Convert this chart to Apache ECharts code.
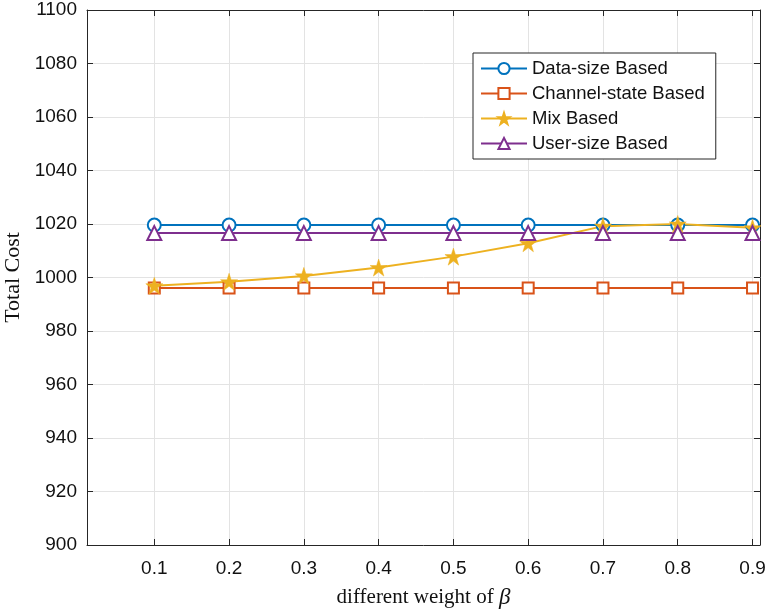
<!DOCTYPE html>
<html><head><meta charset="utf-8">
<script src="https://cdn.jsdelivr.net/npm/echarts@6/dist/echarts.min.js"></script>
<style>html,body{margin:0;padding:0;background:#fff}#c{width:766px;height:614px}</style>
</head><body><div id="c"></div>
<script>
const betas = [0.1,0.2,0.3,0.4,0.5,0.6,0.7,0.8,0.9];
const dataSize = [1019.6,1019.6,1019.6,1019.6,1019.6,1019.6,1019.6,1019.6,1019.6];
const channelState = [996.1,996.1,996.1,996.1,996.1,996.1,996.1,996.1,996.1];
const mixBased = [996.9,998.4,1000.6,1003.7,1007.8,1012.8,1019.2,1020.0,1018.6];
const userSize = [1016.6,1016.6,1016.6,1016.6,1016.6,1016.6,1016.6,1016.6,1016.6];
const xTicks = [0.1,0.2,0.3,0.4,0.5,0.6,0.7,0.8,0.9];
const yTicks = [900,920,940,960,980,1000,1020,1040,1060,1080,1100];

const star = 'path://M50,0 L61.8,36.2 L100,36.2 L69.1,58.6 L80.9,95 L50,72.4 L19.1,95 L30.9,58.6 L0,36.2 L38.2,36.2 Z';
const pair = a => a.map((v,i)=>[betas[i], v]);
const axisColor = '#262626';
const font = '"Liberation Sans", Arial, Helvetica, sans-serif';
const serif = '"Liberation Serif","Times New Roman",serif';

function mk(name, data, color, symbol, size, extra){
  return Object.assign({
    name, type:'line', data: pair(data), symbol, symbolSize:size,
    showAllSymbol:true,
    lineStyle:{color, width:2}, itemStyle:{color, borderColor:color, borderWidth:2},
    emphasis:{disabled:true}, animation:false, z:3
  }, extra||{});
}
const chart = echarts.init(document.getElementById('c'));
const xBase = {type:'value', min:0.01, max:0.91,
  axisLine:{show:true, onZero:false, lineStyle:{color:axisColor, width:1}},
  axisTick:{show:true, inside:true, length:6, lineStyle:{color:axisColor}, customValues:xTicks},
  splitLine:{show:false}};
const yBase = {type:'value', min:900, max:1100, interval:20,
  axisLine:{show:true, onZero:false, lineStyle:{color:axisColor, width:1}},
  axisTick:{show:true, inside:true, length:6, lineStyle:{color:axisColor}},
  splitLine:{show:false}};
chart.setOption({
  backgroundColor:'#fff',
  animation:false,
  grid:{left:87, right:6, top:10, bottom:69, containLabel:false, outerBoundsMode:'none'},
  xAxis:[
    Object.assign({}, xBase, {position:'bottom',
      splitLine:{show:true, customValues:xTicks, lineStyle:{color:'#e3e3e3', width:1}},
      axisLabel:{show:true, customValues:xTicks, color:'#111', fontSize:19, fontFamily:font, margin:14,
        formatter:v=>v.toFixed(1)},
      name:'{a|different weight of }{b|β}', nameLocation:'middle', nameGap:41,
      nameTextStyle:{rich:{a:{fontFamily:serif, fontSize:21, color:'#111'},
        b:{fontFamily:serif, fontStyle:'italic', fontSize:23, color:'#111'}}}
    }),
    Object.assign({}, xBase, {position:'top', axisLabel:{show:false}})
  ],
  yAxis:[
    Object.assign({}, yBase, {position:'left',
      splitLine:{show:true, lineStyle:{color:'#e3e3e3', width:1}},
      axisLabel:{show:true, color:'#111', fontSize:19, fontFamily:font, margin:10,
        customValues:yTicks, formatter:v=>String(v)},
      name:'Total Cost', nameLocation:'middle', nameGap:54, nameRotate:90,
      nameTextStyle:{fontFamily:serif, fontSize:22, color:'#111'}
    }),
    Object.assign({}, yBase, {position:'right', axisLabel:{show:false}})
  ],
  legend:{
    orient:'vertical', left:473, top:53, width:242,
    backgroundColor:'#fff', borderColor:axisColor, borderWidth:1, borderRadius:0,
    padding:[6,11,6,7], itemGap:6, itemWidth:46, itemHeight:14,
    textStyle:{fontSize:18.5, fontFamily:font, color:'#111', padding:[0,0,0,0]},
    selectedMode:false,
    data:['Data-size Based','Channel-state Based','Mix Based','User-size Based']
  },
  series:[
    mk('Data-size Based', dataSize, '#0072BD', 'emptyCircle', 13),
    mk('Channel-state Based', channelState, '#D95319', 'emptyRect', 11),
    mk('Mix Based', mixBased, '#EDB120', star, 17, {itemStyle:{color:'#EDB120', borderColor:'#EDB120', borderWidth:0.5}}),
    mk('User-size Based', userSize, '#7E2F8E', 'emptyTriangle', 14)
  ]
});
</script></body></html>
